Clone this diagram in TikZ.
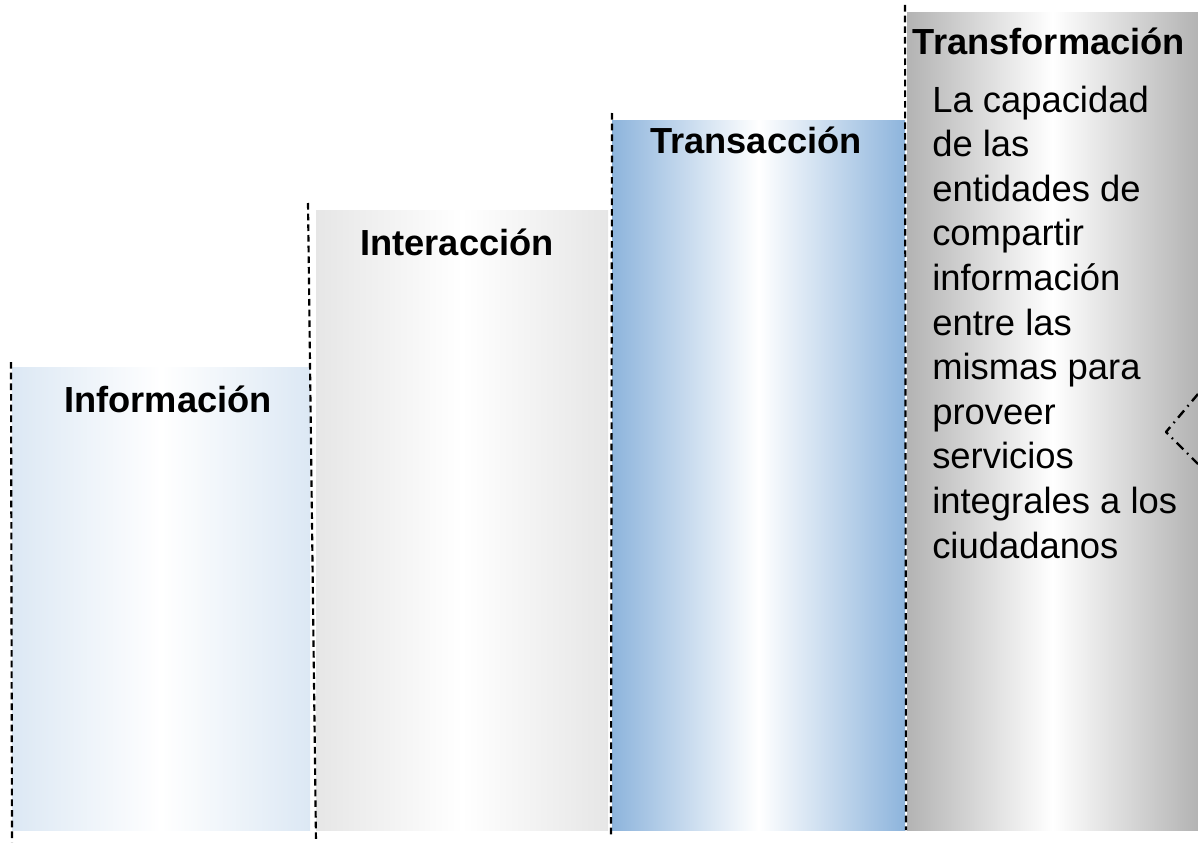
\documentclass[tikz,border=0pt]{standalone}
\usepackage{fontspec}
\setmainfont{Liberation Sans}
\usetikzlibrary{arrows}

\definecolor{infoblue}{HTML}{DCE8F4}
\definecolor{intergray}{HTML}{E6E6E6}
\definecolor{transblue}{HTML}{8DB4DC}
\definecolor{transfgray}{HTML}{B3B3B3}

\tikzset{
  stage/.style={left color=#1,right color=#1,middle color=white},
  stagetitle/.style={anchor=base,inner sep=0pt,font=\fontsize{27.2}{32}\selectfont\bfseries},
  divider/.style={line width=1.6pt,dash pattern=on 5pt off 3pt},
}

\begin{document}
\begin{tikzpicture}[line cap=butt,line join=round,x=0.75pt,y=-0.75pt]
\useasboundingbox (0,0) rectangle (1198,842);
\clip (0,0) rectangle (1198,842);
% escalones
\shade [stage=infoblue] (12,367) rectangle (310,830);
\shade [stage=intergray] (316,210) rectangle (608,830);
\shade [stage=transblue] (612,120) rectangle (905,830);
\shade [stage=transfgray] (907,13) rectangle (1198,830);
% separadores
\draw [divider] (11,362)--(12,842);
\draw [divider] (308,203)--(316,842);
\draw [divider] (612,113)--(611,836);
\draw [divider] (905,5)--(906,830);
% titulos
\node [stagetitle] (info) at (168,412) {Información};
\node [stagetitle] (inter) at (457,255) {Interacción};
\node [stagetitle] (trans) at (756,153) {Transacción};
\node [stagetitle] (transf) at (1049,55) {Transformación};
% texto (base = ultima linea)
\node [anchor=base west,inner sep=0pt,align=left,
  font=\fontsize{27.3}{33.45}\selectfont] (desc) at (932,558)
  {La capacidad\\de las\\entidades de\\compartir\\información\\entre las\\mismas para\\proveer\\servicios\\integrales a los\\ciudadanos};
% flecha cortada
\draw [line width=1.8pt,dash pattern=on 7pt off 4pt on 1.2pt off 4pt] (1198,394)--(1166,432)--(1198,464);
\end{tikzpicture}
\end{document}
